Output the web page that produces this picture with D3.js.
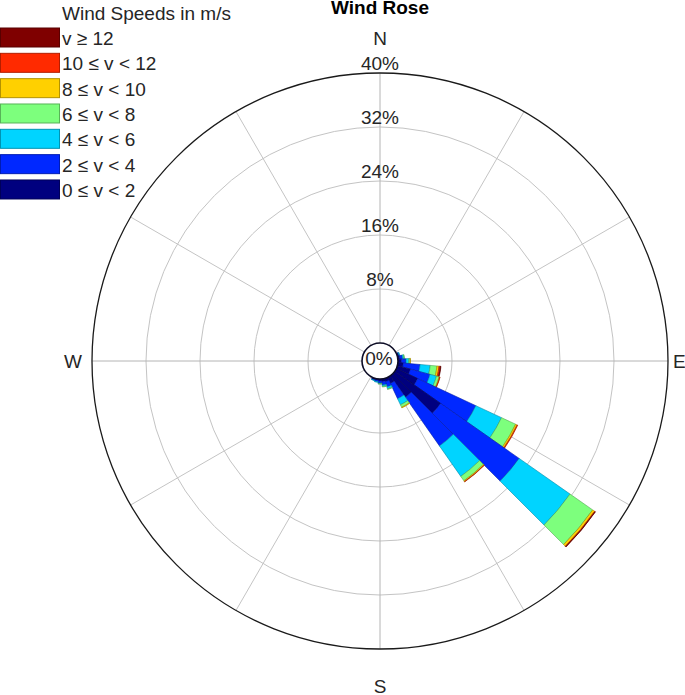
<!DOCTYPE html>
<html>
<head>
<meta charset="utf-8">
<script src="https://cdn.jsdelivr.net/npm/d3@7"></script>
<style>
  body { margin: 0; background: #fff; }
  svg text { font-family: "Liberation Sans", Arial, Helvetica, sans-serif; fill: #262626; }
</style>
</head>
<body>
<svg id="chart" width="685" height="695"></svg>

<script>
// direction bins (degrees, clockwise from north); all others are empty
const dirs = [70, 80, 90, 100, 110, 120, 130, 140, 150, 160, 170, 180, 190, 200]

// frequency (%) of each speed class per direction
const v0_2   = [0.2, 0.3, 0.5, 0.8, 2.0, 3.5, 8.3, 3.9, 1.0, 0.5, 0.4, 0.3, 0.2, 0.2]
const v2_4   = [0.1, 0.4, 0.7, 2.5, 3.0, 9.5, 14.2, 8.8, 2.5, 0.8, 0.5, 0.3, 0.2, 0.1]
const v4_6   = [0.1, 0.2, 0.4, 1.5, 1.0, 4.2, 9.2, 5.5, 1.0, 0.3, 0.2, 0.1, 0.1, 0.05]
const v6_8   = [0, 0.1, 0.2, 1.0, 0.4, 2.3, 4.1, 0.8, 0.4, 0.1, 0.1, 0.05, 0, 0]
const v8_10  = [0, 0, 0.05, 0.3, 0.1, 0.25, 0.35, 0.15, 0.1, 0, 0, 0, 0, 0]
const v10_12 = [0, 0, 0, 0.2, 0.05, 0.1, 0.1, 0.05, 0, 0, 0, 0, 0, 0]
const v12    = [0, 0, 0, 0.1, 0, 0, 0.05, 0, 0, 0, 0, 0, 0, 0]

const series = [v0_2, v2_4, v4_6, v6_8, v8_10, v10_12, v12]
const speedLabels = ["0 \u2264 v < 2", "2 \u2264 v < 4", "4 \u2264 v < 6", "6 \u2264 v < 8",
  "8 \u2264 v < 10", "10 \u2264 v < 12", "v \u2265 12"]
const colors = ["#00007f", "#0028ff", "#00d4ff", "#7dff7d", "#ffd000", "#ff2a00", "#7f0000"]

const ringTicks = [8, 16, 24, 32, 40]
const compass = [{ t: "N", a: 0 }, { t: "E", a: 90 }, { t: "S", a: 180 }, { t: "W", a: 270 }]

const cx = 380, cy = 361
const binWidth = 10

const svg = d3.select("#chart")

const r = d3.scaleLinear().domain([0, 40]).range([18, 288])

const g = svg.append("g").attr("transform", `translate(${cx},${cy})`)

// grid circles
g.selectAll("circle.ring")
  .data(ringTicks.slice(0, -1))
  .join("circle")
  .attr("class", "ring")
  .attr("r", d => r(d))
  .attr("fill", "none")
  .attr("stroke", "#c4c4c4")
  .attr("stroke-width", 1)

// spokes every 30 degrees
g.selectAll("line.spoke")
  .data(d3.range(0, 360, 30))
  .join("line")
  .attr("class", "spoke")
  .attr("x1", d => r(0) * Math.sin(d * Math.PI / 180))
  .attr("y1", d => -r(0) * Math.cos(d * Math.PI / 180))
  .attr("x2", d => r(40) * Math.sin(d * Math.PI / 180))
  .attr("y2", d => -r(40) * Math.cos(d * Math.PI / 180))
  .attr("stroke", d => d % 90 === 0 ? "#b4b4b4" : "#c4c4c4")
  .attr("stroke-width", 1)

g.append("circle")
  .attr("r", r(40))
  .attr("fill", "none")
  .attr("stroke", "#1a1a1a")
  .attr("stroke-width", 1.3)

// stacked sectors
const arc = d3.arc()
const segs = []
dirs.forEach((dir, i) => {
  let acc = 0
  series.forEach((s, k) => {
    const v = s[i]
    if (v > 0) {
      segs.push({
        innerRadius: r(acc),
        outerRadius: r(acc + v),
        startAngle: (dir - binWidth / 2) * Math.PI / 180,
        endAngle: (dir + binWidth / 2) * Math.PI / 180,
        k: k
      })
    }
    acc += v
  })
})

g.selectAll("path.seg")
  .data(segs)
  .join("path")
  .attr("class", "seg")
  .attr("d", arc)
  .attr("fill", d => colors[d.k])
  .attr("stroke", d => d3.color(colors[d.k]).darker(1.2))
  .attr("stroke-width", 0.6)

// centre circle
g.append("circle")
  .attr("r", r(0))
  .attr("fill", "#fff")
  .attr("stroke", "#0d0d26")
  .attr("stroke-width", 1.6)

g.append("text")
  .attr("x", -1)
  .attr("y", 4)
  .attr("text-anchor", "middle")
  .style("font-size", "19px")
  .text("0%")

// percentage labels along north axis
g.selectAll("text.tick")
  .data(ringTicks)
  .join("text")
  .attr("class", "tick")
  .attr("x", 0)
  .attr("y", d => -r(d) - 3)
  .attr("text-anchor", "middle")
  .style("font-size", "19px")
  .text(d => d + "%")

// compass labels
g.selectAll("text.cmp")
  .data(compass)
  .join("text")
  .attr("class", "cmp")
  .attr("x", d => d.a === 90 ? 293 : d.a === 270 ? -298 : 0)
  .attr("y", d => d.a === 0 ? -316 : d.a === 180 ? 332 : 7)
  .attr("text-anchor", d => d.a === 90 ? "start" : d.a === 270 ? "end" : "middle")
  .style("font-size", "19px")
  .text(d => d.t)

svg.append("text")
  .attr("x", cx)
  .attr("y", 14)
  .attr("text-anchor", "middle")
  .style("font-size", "19px")
  .style("font-weight", "bold")
  .style("fill", "#000")
  .text("Wind Rose")

// legend, strongest class on top
const legend = svg.append("g")
legend.append("text")
  .attr("x", 62)
  .attr("y", 20)
  .style("font-size", "19px")
  .text("Wind Speeds in m/s")

const rows = d3.range(series.length).reverse()
const ly = d3.scaleBand().domain(rows).range([28, 28 + 25.33 * rows.length])

const item = legend.selectAll("g.item")
  .data(rows)
  .join("g")
  .attr("class", "item")
  .attr("transform", d => `translate(0,${ly(d)})`)

item.append("rect")
  .attr("x", 0.5)
  .attr("y", 0)
  .attr("width", 59)
  .attr("height", 19)
  .attr("fill", d => colors[d])
  .attr("stroke", d => d3.color(colors[d]).darker(1))
  .attr("stroke-width", 1)

item.append("text")
  .attr("x", 62)
  .attr("y", 17)
  .style("font-size", "19px")
  .text(d => speedLabels[d])
</script>
</body>
</html>
